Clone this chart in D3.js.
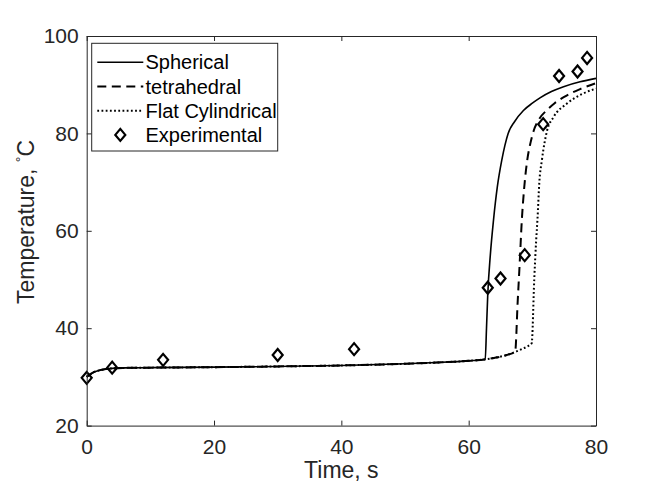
<!DOCTYPE html>
<html>
<head>
<meta charset="utf-8">
<script src="https://cdn.jsdelivr.net/npm/d3@7"></script>
<style>
  body { margin: 0; background: #fff; }
  svg { display: block; font-family: "Liberation Sans", Arial, sans-serif; }
  .axis text { font-size: 21px; fill: #262626; }
  .axis path, .axis line { stroke: #262626; stroke-width: 1; }
  .label { font-size: 23px; fill: #262626; }
  .legend text { font-size: 20px; fill: #000; }
</style>
</head>
<body>
<svg width="658" height="494"></svg>
<script>
// [time s, temperature C]
const spherical = [
  [0, 30.0], [0.5, 30.5], [1, 30.9], [2, 31.35], [3, 31.6], [4, 31.75], [6, 31.85],
  [10, 31.9], [20, 32.0], [30, 32.15], [40, 32.35], [50, 32.7], [55, 32.95], [60, 33.3],
  [62.6, 33.6], [62.8, 40], [63.0, 47], [63.4, 55], [63.9, 62.2], [64.5, 69], [65.2, 74.5],
  [65.7, 77.6], [66.2, 80], [67.2, 82.4], [68.6, 84.7], [70, 86.2], [71.2, 87.3], [73, 88.6],
  [74.9, 89.6], [77.5, 90.6], [80, 91.3]
];
const tetrahedral = [
  [0, 30.0], [0.5, 30.5], [1, 30.9], [2, 31.35], [3, 31.6], [4, 31.75], [6, 31.85],
  [10, 31.9], [20, 32.0], [30, 32.15], [40, 32.35], [50, 32.7], [55, 32.95], [60, 33.3],
  [62.6, 33.6], [64, 33.9], [66, 34.5], [67.3, 35.2], [67.7, 45.5], [68.0, 53],
  [68.35, 62.2], [68.7, 68.5], [69.2, 74.5], [69.7, 78], [70.2, 80.5], [71, 82.8],
  [72.3, 84.8], [73.5, 86.2], [75, 87.5], [77.5, 89.1], [80, 90.3]
];
const flatCylindrical = [
  [0, 30.0], [0.5, 30.5], [1, 30.9], [2, 31.35], [3, 31.6], [4, 31.75], [6, 31.85],
  [10, 31.9], [20, 32.0], [30, 32.15], [40, 32.35], [50, 32.7], [55, 32.95], [60, 33.3],
  [62.6, 33.6], [64, 33.9], [66, 34.5], [67.3, 35.1], [68.5, 35.8], [69.3, 36.3],
  [69.9, 36.9], [70.3, 50], [70.6, 58], [70.8, 62.2], [71.1, 70], [71.5, 74.5],
  [72.3, 80.5], [73.3, 83.3], [75.4, 86.1], [78, 88.2], [80, 89.2]
];
const experimental = [
  [0, 29.8], [4, 31.9], [12, 33.5], [30, 34.5], [42, 35.7], [63, 48.3],
  [65, 50.2], [68.8, 55], [71.7, 81.9], [74.2, 91.8], [77.1, 92.7], [78.6, 95.5]
];
const xTicks = [0, 20, 40, 60, 80];
const yTicks = [20, 40, 60, 80, 100];
const legendNames = ["Spherical", "tetrahedral", "Flat Cylindrical", "Experimental"];

const svg = d3.select("svg");
const width = +svg.attr("width");
const height = +svg.attr("height");
const margin = { top: 36, right: 62, bottom: 68.4, left: 86.7 };
const innerWidth = width - margin.left - margin.right;
const innerHeight = height - margin.top - margin.bottom;

const xScale = d3.scaleLinear().domain([0, 80]).range([0, innerWidth]);
const yScale = d3.scaleLinear().domain([20, 100]).range([innerHeight, 0]);

const g = svg.append("g")
  .attr("transform", `translate(${margin.left}, ${margin.top})`);

const line = d3.line()
  .x(d => xScale(d[0]))
  .y(d => yScale(d[1]))
  .curve(d3.curveMonotoneX);

const styles = [
  { data: spherical, dash: null },
  { data: tetrahedral, dash: "9,5.5" },
  { data: flatCylindrical, dash: "1.8,2.4" }
];

g.selectAll("path.curve")
  .data(styles)
  .join("path")
  .attr("class", "curve")
  .attr("d", d => line(d.data))
  .attr("fill", "none")
  .attr("stroke", "#000")
  .attr("stroke-width", d => d.dash ? 2 : 1.6)
  .attr("stroke-dasharray", d => d.dash);

const diamond = "M0,-6L5,0L0,6L-5,0Z";

g.selectAll("path.marker")
  .data(experimental)
  .join("path")
  .attr("class", "marker")
  .attr("d", diamond)
  .attr("transform", d => `translate(${xScale(d[0])},${yScale(d[1])})`)
  .attr("fill", "none")
  .attr("stroke", "#000")
  .attr("stroke-width", 2.2);

// axes, ticks pointing inward on all four sides
g.append("g")
  .attr("class", "axis")
  .attr("transform", `translate(0, ${innerHeight})`)
  .call(d3.axisBottom(xScale).tickValues(xTicks).tickSizeInner(-5).tickSizeOuter(0).tickPadding(13));

g.append("g")
  .attr("class", "axis")
  .call(d3.axisLeft(yScale).tickValues(yTicks).tickSizeInner(-5).tickSizeOuter(0).tickPadding(8));

g.append("g")
  .attr("class", "axis")
  .call(d3.axisTop(xScale).tickValues(xTicks).tickSizeInner(-5).tickSizeOuter(0))
  .selectAll("text").remove();

g.append("g")
  .attr("class", "axis")
  .attr("transform", `translate(${innerWidth}, 0)`)
  .call(d3.axisRight(yScale).tickValues(yTicks).tickSizeInner(-5).tickSizeOuter(0))
  .selectAll("text").remove();

g.selectAll(".axis text").attr("font-family", null).attr("font-size", null);

// axis labels
g.append("text")
  .attr("class", "label")
  .attr("x", innerWidth / 2)
  .attr("y", innerHeight + 52)
  .attr("text-anchor", "middle")
  .text("Time, s");

const yLabel = g.append("text")
  .attr("class", "label")
  .attr("font-size", 22)
  .attr("transform", `translate(${34 - margin.left}, ${222 - margin.top}) rotate(-90)`)
  .attr("text-anchor", "middle");
yLabel.append("tspan").text("Temperature, ");
yLabel.append("tspan").attr("dy", -8).attr("font-size", 14).text("°");
yLabel.append("tspan").attr("dy", 8).text("C");

// legend
const legend = svg.append("g").attr("class", "legend");
legend.append("rect")
  .attr("x", 91.7)
  .attr("y", 43.3)
  .attr("width", 186)
  .attr("height", 107.7)
  .attr("fill", "#fff")
  .attr("stroke", "#262626")
  .attr("stroke-width", 1);

const rowY = i => 62.3 + i * 24.2;

legend.selectAll("line")
  .data(styles)
  .join("line")
  .attr("x1", 97.3)
  .attr("x2", 143.3)
  .attr("y1", (d, i) => rowY(i))
  .attr("y2", (d, i) => rowY(i))
  .attr("stroke", "#000")
  .attr("stroke-width", d => d.dash ? 2 : 1.6)
  .attr("stroke-dasharray", d => d.dash);

legend.append("path")
  .attr("d", diamond)
  .attr("transform", `translate(120.3, ${rowY(3)})`)
  .attr("fill", "none")
  .attr("stroke", "#000")
  .attr("stroke-width", 2.2);

legend.selectAll("text")
  .data(legendNames)
  .join("text")
  .attr("x", 145.5)
  .attr("y", (d, i) => rowY(i))
  .attr("dy", "0.35em")
  .text(d => d);
</script>
</body>
</html>
